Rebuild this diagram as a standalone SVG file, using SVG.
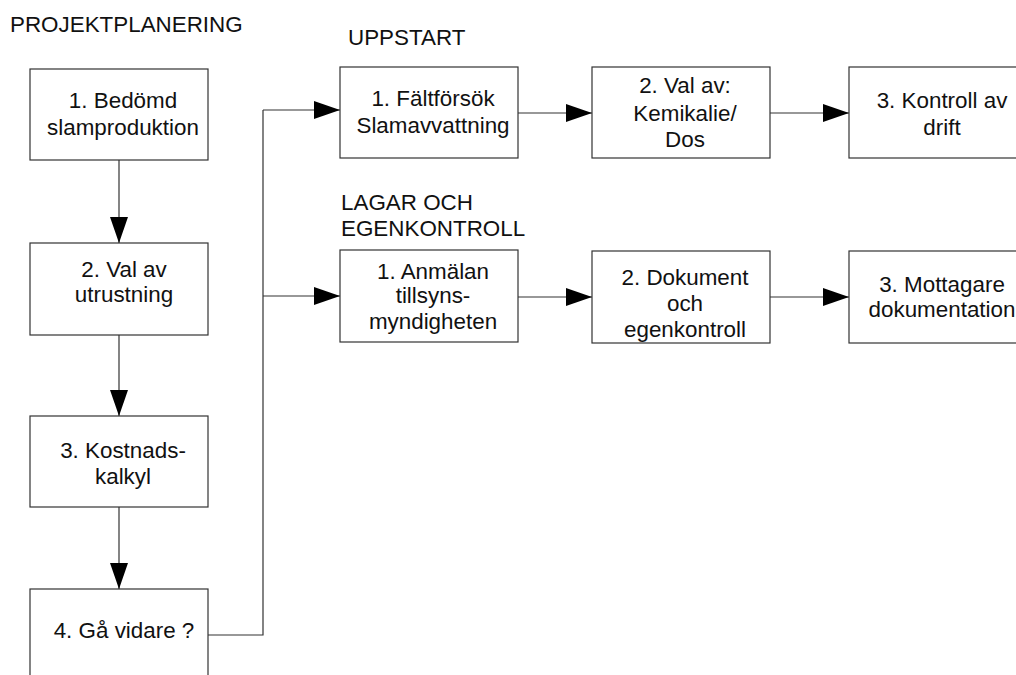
<svg xmlns="http://www.w3.org/2000/svg" width="1016" height="675" viewBox="0 0 1016 675">
<defs>
<marker id="arr" markerUnits="userSpaceOnUse" markerWidth="26" markerHeight="18" refX="26" refY="9" orient="auto">
<path d="M0,0 L26,9 L0,18 Z" fill="#000"/>
</marker>
<style>
.box{fill:#fff;stroke:#333;stroke-width:1.2}
.t{font-family:"Liberation Sans",Arial,sans-serif;font-size:22.4px;fill:#111;text-anchor:middle}
.h{font-family:"Liberation Sans",Arial,sans-serif;font-size:22.4px;fill:#111}
.c{fill:none;stroke:#333;stroke-width:1.2;marker-end:url(#arr)}
.p{fill:none;stroke:#333;stroke-width:1.2}
</style>
</defs>
<rect width="1016" height="675" fill="#fff"/>
<g id="headings">
<text class="h" x="10" y="32">PROJEKTPLANERING</text>
<text class="h" x="348" y="45">UPPSTART</text>
<text class="h" x="341" y="210">LAGAR OCH</text>
<text class="h" x="341" y="236">EGENKONTROLL</text>
</g>
<g id="connectors">
<line class="c" x1="119" y1="160" x2="119" y2="243"/>
<line class="c" x1="119" y1="335" x2="119" y2="416"/>
<line class="c" x1="119" y1="507" x2="119" y2="589"/>
<path class="p" d="M208,635 H263 V110"/>
<line class="c" x1="263" y1="110" x2="340" y2="110"/>
<line class="c" x1="263" y1="296" x2="340" y2="296"/>
<line class="c" x1="518" y1="113" x2="592" y2="113"/>
<line class="c" x1="770" y1="113" x2="849" y2="113"/>
<line class="c" x1="518" y1="297" x2="592" y2="297"/>
<line class="c" x1="770" y1="297" x2="849" y2="297"/>
</g>
<g id="p1"><rect class="box" x="30" y="69" width="178" height="91"/><text class="t" x="123" y="108">1. Bedömd</text><text class="t" x="123" y="135">slamproduktion</text></g>
<g id="p2"><rect class="box" x="30" y="243" width="178" height="92"/><text class="t" x="124" y="277">2. Val av</text><text class="t" x="124" y="302">utrustning</text></g>
<g id="p3"><rect class="box" x="30" y="416" width="178" height="91"/><text class="t" x="123" y="458">3. Kostnads-</text><text class="t" x="123" y="484">kalkyl</text></g>
<g id="p4"><rect class="box" x="30" y="589" width="178" height="100"/><text class="t" x="124" y="638">4. Gå vidare ?</text></g>
<g id="u1"><rect class="box" x="340" y="67" width="178" height="91"/><text class="t" x="433" y="106">1. Fältförsök</text><text class="t" x="433" y="133">Slamavvattning</text></g>
<g id="u2"><rect class="box" x="592" y="67" width="178" height="91"/><text class="t" x="685" y="93">2. Val av:</text><text class="t" x="685" y="121">Kemikalie/</text><text class="t" x="685" y="147">Dos</text></g>
<g id="u3"><rect class="box" x="849" y="67" width="178" height="91"/><text class="t" x="942" y="108">3. Kontroll av</text><text class="t" x="942" y="135">drift</text></g>
<g id="l1"><rect class="box" x="340" y="250" width="178" height="92"/><text class="t" x="433" y="279">1. Anmälan</text><text class="t" x="433" y="303">tillsyns-</text><text class="t" x="433" y="329">myndigheten</text></g>
<g id="l2"><rect class="box" x="592" y="251" width="178" height="92"/><text class="t" x="685" y="285">2. Dokument</text><text class="t" x="685" y="311">och</text><text class="t" x="685" y="337">egenkontroll</text></g>
<g id="l3"><rect class="box" x="849" y="251" width="178" height="92"/><text class="t" x="942" y="292">3. Mottagare</text><text class="t" x="942" y="317">dokumentation</text></g>
</svg>
